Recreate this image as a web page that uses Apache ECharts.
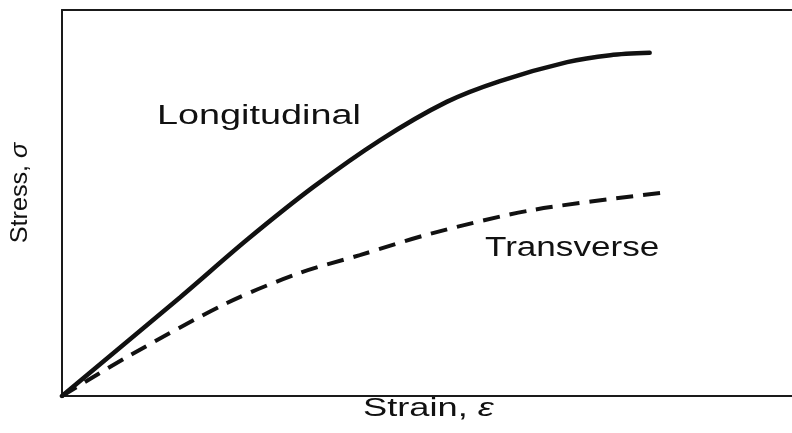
<!DOCTYPE html>
<html>
<head>
<meta charset="utf-8">
<script src="https://cdn.jsdelivr.net/npm/echarts@6/dist/echarts.min.js"></script>
<style>
  html, body { margin: 0; padding: 0; background: #fff; }
  #main { width: 792px; height: 433px; }
</style>
</head>
<body>
<div id="main"></div>
<script>
// strain / stress (arbitrary units, 0..10)
var longStrain = [0, 1.62, 2.53, 3.44, 4.36, 5.27, 6.0, 6.92, 7.51, 8.05];
var longStress = [0, 2.56, 4.04, 5.41, 6.63, 7.62, 8.16, 8.65, 8.83, 8.89];
var transStrain = [0, 0.89, 2.26, 3.26, 4.08, 5.08, 6.45, 8.29];
var transStress = [0, 1.01, 2.41, 3.19, 3.65, 4.22, 4.82, 5.28];

function pairs(xs, ys) {
    var out = [];
    for (var i = 0; i < xs.length; i++) out.push([xs[i], ys[i]]);
    return out;
}

var font = '"Liberation Sans", Arial, sans-serif';
var myChart = echarts.init(document.getElementById('main'));

function label(x, y, text, size, sx, rot) {
    return {
        type: 'text', x: x, y: y, scaleX: sx, rotation: rot || 0,
        style: {
            text: text, fontSize: size, fontFamily: font, fill: '#111',
            textAlign: rot ? 'center' : 'left', textVerticalAlign: 'middle',
            rich: { i: { fontStyle: 'italic', fontSize: size, fontFamily: font, fill: '#111' } }
        }
    };
}

function bare(pos) {
    return {
        type: 'value', min: 0, max: 10, position: pos,
        axisLine: { show: true, onZero: false, lineStyle: { color: '#1a1a1a', width: 2 } },
        axisTick: { show: false }, axisLabel: { show: false }, splitLine: { show: false }
    };
}

var option = {
    animation: false,
    grid: { left: 62, top: 10, bottom: 37, right: -30 },
    xAxis: [bare('bottom'), bare('top')],
    yAxis: bare('left'),
    series: [
        {
            name: 'Longitudinal',
            type: 'line',
            smooth: 0.3,
            showSymbol: false,
            lineStyle: { color: '#111', width: 4.5, cap: 'round' },
            data: pairs(longStrain, longStress)
        },
        {
            name: 'Transverse',
            type: 'line',
            smooth: 0.3,
            showSymbol: false,
            lineStyle: { color: '#111', width: 4, type: [17, 10] },
            data: pairs(transStrain, transStress)
        }
    ],
    graphic: [
        label(157, 117, 'Longitudinal', 27, 1.4),
        label(485, 249, 'Transverse', 27, 1.3),
        label(363, 409, 'Strain, {i|ε}', 25, 1.45),
        label(20, 193, 'Stress, {i|σ}', 24, 1.05, Math.PI / 2),
        // the frame is open on the right in the original
        { type: 'rect', z: 100, shape: { x: 786, y: 12, width: 10, height: 382 },
          style: { fill: '#fff' } }
    ]
};

myChart.setOption(option);
</script>
</body>
</html>
